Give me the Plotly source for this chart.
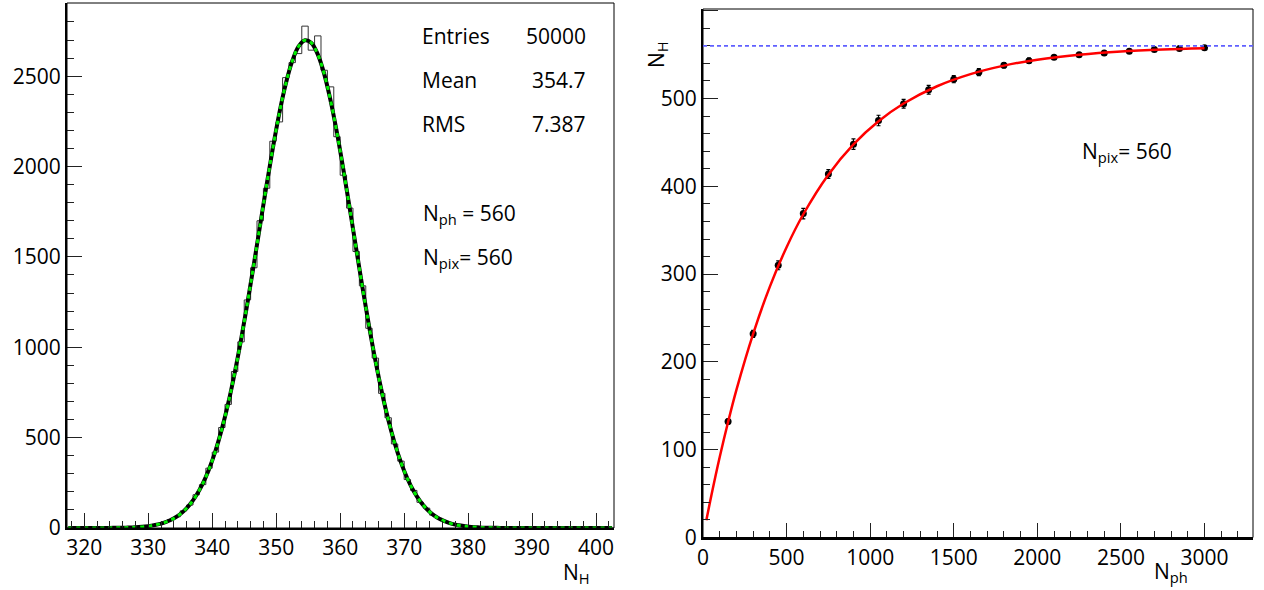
import numpy as np
import plotly.graph_objects as go

W, H = 1264, 590

# ---------------- Left panel data: N_H histogram (bin width 1, first bin [317,318)) ----------------
hist_first_edge = 317
hist_counts = [
    0, 0, 0, 0, 0, 0, 1, 0, 2,            # 317-325
    2, 3, 6, 9, 12, 21, 28, 47, 62, 95,   # 326-335
    127, 184, 240, 331, 420, 556, 684, 866, 1030, 1262,   # 336-345
    1440, 1700, 1880, 2140, 2247, 2492, 2575, 2625, 2777, 2644,  # 346-355
    2723, 2533, 2441, 2165, 1952, 1770, 1530, 1340, 1105, 940,   # 356-365
    745, 610, 465, 370, 268, 208, 142, 110, 71, 53,              # 366-375
    33, 24, 14, 10, 5, 4, 2, 1, 0, 0,                            # 376-385
    0, 0, 0, 0, 0, 0, 0, 0, 0, 0, 0, 0, 0, 0, 0, 0, 0            # 386-402
]
# Gaussian fit curve, read at bin centres
fit1_values = [
    0, 0, 0, 0, 0, 0, 0, 1, 1,
    2, 3, 5, 8, 13, 20, 30, 44, 64, 92,
    130, 180, 244, 325, 426, 547, 690, 856, 1041, 1243,
    1458, 1679, 1899, 2107, 2297, 2458, 2583, 2665, 2699, 2684,
    2621, 2513, 2365, 2186, 1983, 1767, 1546, 1328, 1120, 927,
    754, 602, 472, 363, 274, 203, 148, 106, 74, 51,
    35, 23, 15, 10, 6, 4, 2, 1, 1, 0,
    0, 0, 0, 0, 0, 0, 0, 0, 0, 0, 0, 0, 0, 0, 0, 0, 0
]
stats_labels = ["Entries", "Mean", "RMS"]
stats_values = ["50000", "354.7", "7.387"]

# ---------------- Right panel data: N_H vs N_ph ----------------
n_ph = [150, 300, 450, 600, 750, 900, 1050, 1200, 1350, 1500,
        1650, 1800, 1950, 2100, 2250, 2400, 2550, 2700, 2850, 3000]
n_h = [132, 232, 310, 369, 414, 448, 475, 494, 510, 522,
       530, 538, 543, 547, 550, 552, 554, 556, 557, 558]
n_h_err = [3, 4, 5, 6, 5, 6, 6, 5, 5, 4,
           4, 3, 3, 2, 2, 2, 2, 2, 2, 2]
fit2_x = [20, 50, 100, 150, 200, 300, 400, 500, 600, 750, 900, 1050, 1200,
          1400, 1600, 1800, 2000, 2250, 2500, 2750, 3000]
fit2_y = [19.6, 47.8, 91.6, 131.6, 168.2, 232.0, 285.8, 330.7, 368.2, 413.3, 447.8,
          474.1, 494.3, 514.0, 527.8, 537.5, 544.3, 549.9, 553.6, 555.9, 557.4]
n_pix = 560

FONT = "Open Sans"

def px(x):
    return x / W

def py(y):
    return 1 - y / H

fig = go.Figure()

# histogram outline
edges = list(range(hist_first_edge, hist_first_edge + len(hist_counts) + 1))
centers = [e + 0.5 for e in edges[:-1]]
fig.add_trace(go.Scatter(x=edges, y=hist_counts + [hist_counts[-1]], mode="lines",
                         line=dict(shape="hv", color="#333333", width=1),
                         xaxis="x", yaxis="y", hoverinfo="skip"))
fig.add_trace(go.Scatter(x=centers, y=fit1_values, mode="lines",
                         line=dict(shape="spline", color="black", width=4),
                         xaxis="x", yaxis="y", hoverinfo="skip"))
fig.add_trace(go.Scatter(x=centers, y=fit1_values, mode="lines",
                         line=dict(shape="spline", color="#00ee00", width=3, dash="4px,4px"),
                         xaxis="x", yaxis="y", hoverinfo="skip"))

# right panel
fig.add_trace(go.Scatter(x=n_ph, y=n_h, mode="markers",
                         marker=dict(color="black", size=7),
                         error_y=dict(type="data", array=n_h_err, color="black",
                                      thickness=1.2, width=2),
                         xaxis="x2", yaxis="y2", hoverinfo="skip"))
fig.add_trace(go.Scatter(x=fit2_x, y=fit2_y, mode="lines",
                         line=dict(shape="spline", color="#ff0000", width=2.5),
                         xaxis="x2", yaxis="y2", hoverinfo="skip"))

tickfont = dict(family=FONT, size=21, color="black")
common = dict(showgrid=False, zeroline=False, ticks="inside", tickcolor="#222222",
              tickwidth=1, showline=True, linecolor="black", linewidth=2,
              tickfont=tickfont, mirror=False, automargin=False)

fig.update_layout(
    template="none",
    width=W, height=H,
    margin=dict(l=0, r=0, t=0, b=0, pad=0),
    paper_bgcolor="white", plot_bgcolor="white",
    showlegend=False,
    xaxis=dict(domain=[px(67), px(614)], range=[317.3, 402.8], anchor="y",
               tick0=320, dtick=10, ticklen=15, ticklabelstandoff=0,
               minor=dict(dtick=2, ticklen=7, ticks="inside", tickcolor="#222222"),
               **common),
    yaxis=dict(domain=[py(528), py(3)], range=[0, 2905], anchor="x",
               tick0=0, dtick=500, ticklen=15,
               minor=dict(dtick=100, ticklen=7, ticks="inside", tickcolor="#222222"),
               **common),
    xaxis2=dict(domain=[px(703), px(1253)], range=[0, 3290], anchor="y2",
                tick0=0, dtick=500, ticklen=15, ticklabelstandoff=0,
                minor=dict(dtick=100, ticklen=7, ticks="inside", tickcolor="#222222"),
                **common),
    yaxis2=dict(domain=[py(537.5), py(9)], range=[0, 602], anchor="x2",
                tick0=0, dtick=100, ticklen=15,
                minor=dict(dtick=20, ticklen=7, ticks="inside", tickcolor="#222222"),
                **common),
)

# frames
for xr, yr in (("x domain", "y domain"), ("x2 domain", "y2 domain")):
    fig.add_shape(type="rect", xref=xr, yref=yr, x0=0, x1=1, y0=0, y1=1,
                  line=dict(color="black", width=1), layer="above")

# N_pix reference line
fig.add_shape(type="line", xref="x2 domain", yref="y2", x0=0, x1=1, y0=n_pix, y1=n_pix,
              line=dict(color="#6060ff", width=1.8, dash="4px,3px"))

ann = []
txt = dict(family=FONT, size=21, color="black")
for i, (lab, val) in enumerate(zip(stats_labels, stats_values)):
    yc = 36 + 44 * i
    ann.append(dict(x=px(420), y=py(yc), xref="paper", yref="paper", text=lab,
                    xanchor="left", yanchor="middle", showarrow=False, font=txt))
    ann.append(dict(x=px(588), y=py(yc), xref="paper", yref="paper", text=val,
                    xanchor="right", yanchor="middle", showarrow=False, font=txt))
ann.append(dict(x=px(421), y=py(214), xref="paper", yref="paper",
                text="N<sub>ph</sub> = %d" % n_pix, xanchor="left", yanchor="middle",
                showarrow=False, font=txt))
ann.append(dict(x=px(421), y=py(258), xref="paper", yref="paper",
                text="N<sub>pix</sub>= %d" % n_pix, xanchor="left", yanchor="middle",
                showarrow=False, font=txt))
ann.append(dict(x=px(1080), y=py(152), xref="paper", yref="paper",
                text="N<sub>pix</sub>= %d" % n_pix, xanchor="left", yanchor="middle",
                showarrow=False, font=txt))
# axis titles
ann.append(dict(x=px(561), y=py(573), xref="paper", yref="paper",
                text="N<sub>H</sub>", xanchor="left", yanchor="middle",
                showarrow=False, font=txt))
ann.append(dict(x=px(1152), y=py(572), xref="paper", yref="paper",
                text="N<sub>ph</sub>", xanchor="left", yanchor="middle",
                showarrow=False, font=txt))
ann.append(dict(x=px(657), y=py(55), xref="paper", yref="paper",
                text="N<sub>H</sub>", xanchor="center", yanchor="middle", textangle=-90,
                showarrow=False, font=txt))
fig.update_layout(annotations=ann)

fig.write_html("out.html")
